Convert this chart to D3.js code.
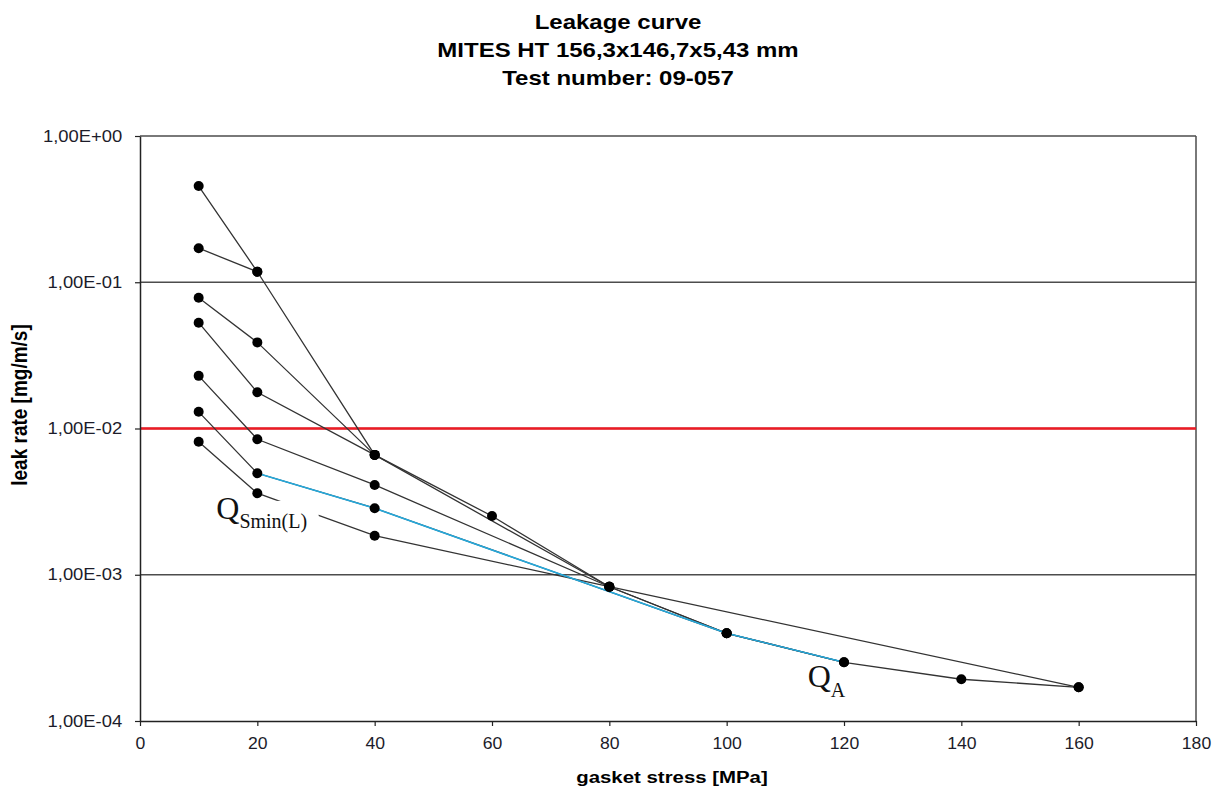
<!DOCTYPE html>
<html>
<head>
<meta charset="utf-8">
<script src="https://cdn.jsdelivr.net/npm/d3@7"></script>
<style>
  body { margin: 0; background: #fff; }
  svg { display: block; font-family: "Liberation Sans", Arial, sans-serif; }
</style>
</head>
<body>
<svg id="chart" width="1213" height="789"></svg>
<script>
// title lines
var titleLines = ['Leakage curve', 'MITES HT 156,3x146,7x5,43 mm', 'Test number: 09-057'];

// axis ticks
var stressTicks = [0, 20, 40, 60, 80, 100, 120, 140, 160, 180];
var leakTicks = [1, 0.1, 0.01, 0.001, 0.0001];
var tightnessLimit = 0.01;

// loading curve
var loadStress = [10, 20, 40, 60, 80, 100, 120, 140, 160];
var loadLeak = [0.455, 0.118, 0.0066, 0.00252, 0.000828, 0.000398, 0.000252, 0.000193, 0.00017];

// unloading curves
var unload20Stress = [20, 10];
var unload20Leak = [0.118, 0.171];
var unload40Stress = [40, 20, 10];
var unload40Leak = [0.0066, 0.0388, 0.0784];
var unload80Stress = [80, 40, 20, 10];
var unload80Leak = [0.000828, 0.0066, 0.0177, 0.0529];
var unload100Stress = [100, 80, 40, 20, 10];
var unload100Leak = [0.000398, 0.000828, 0.00411, 0.00844, 0.0229];
var unload120Stress = [120, 100, 40, 20, 10];
var unload120Leak = [0.000252, 0.000398, 0.00285, 0.00494, 0.013];
var unload160Stress = [160, 80, 40, 20, 10];
var unload160Leak = [0.00017, 0.000828, 0.00185, 0.00361, 0.00812];

// highlighted section between QSmin(L) and QA
var markStress = [20, 40, 100, 120];
var markLeak = [0.00494, 0.00285, 0.000398, 0.000252];

var margin = {top: 136, right: 17, bottom: 68, left: 140},
    width = 1213 - margin.left - margin.right,
    height = 789 - margin.top - margin.bottom;

var svg = d3.select('#chart');
var g = svg.append('g').attr('transform', 'translate(' + margin.left + ',' + margin.top + ')');

var x = d3.scaleLinear().domain([0, 180]).range([0, width]);
var y = d3.scaleLog().domain([0.0001, 1]).range([height, 0]);

function pairs(xs, ys) {
  return xs.map(function(v, i) { return [v, ys[i]]; });
}

var series = [
  pairs(loadStress, loadLeak),
  pairs(unload20Stress, unload20Leak),
  pairs(unload40Stress, unload40Leak),
  pairs(unload80Stress, unload80Leak),
  pairs(unload100Stress, unload100Leak),
  pairs(unload120Stress, unload120Leak),
  pairs(unload160Stress, unload160Leak)
];

function expLabel(d) {
  var e = Math.round(Math.log10(d));
  var s = Math.abs(e) < 10 ? '0' + Math.abs(e) : '' + Math.abs(e);
  return '1,00E' + (e >= 0 ? '+' : '-') + s;
}

// gridlines
g.selectAll('.grid').data(leakTicks.filter(function(d) { return d !== 0.0001; }))
  .enter().append('line')
  .attr('x1', 0).attr('x2', width)
  .attr('y1', function(d) { return y(d); }).attr('y2', function(d) { return y(d); })
  .attr('stroke', '#4d4d4d').attr('stroke-width', 1.5);

g.append('line')
  .attr('x1', width).attr('x2', width).attr('y1', 0).attr('y2', height)
  .attr('stroke', '#4d4d4d').attr('stroke-width', 1.5);

g.append('line')
  .attr('x1', 0).attr('x2', width)
  .attr('y1', y(tightnessLimit)).attr('y2', y(tightnessLimit))
  .attr('stroke', '#ee1b24').attr('stroke-width', 2.5);

// axes
var xAxis = g.append('g').attr('transform', 'translate(0,' + height + ')')
  .call(d3.axisBottom(x).tickValues(stressTicks).tickSize(5).tickPadding(12).tickSizeOuter(0));
var yAxis = g.append('g')
  .call(d3.axisLeft(y).tickValues(leakTicks).tickFormat(expLabel).tickSize(5).tickPadding(10).tickSizeOuter(0));

[xAxis, yAxis].forEach(function(ax) {
  ax.select('.domain').attr('stroke', '#222').attr('stroke-width', 1.5);
  ax.selectAll('.tick line').attr('stroke', '#222').attr('stroke-width', 1.2);
  ax.selectAll('.tick text')
    .attr('fill', '#1c1c2a')
    .style('font-size', '16px');
});
xAxis.selectAll('.tick text').attr('transform', 'scale(1.1,1)');
yAxis.selectAll('.tick text').attr('transform', 'scale(1.15,1)').attr('x', -15.5);

// curves
var line = d3.line()
  .x(function(d) { return x(d[0]); })
  .y(function(d) { return y(d[1]); });

g.selectAll('.curve').data(series).enter().append('path')
  .attr('d', line)
  .attr('fill', 'none')
  .attr('stroke', '#333')
  .attr('stroke-width', 1.3);

g.append('path')
  .datum(pairs(markStress, markLeak))
  .attr('d', line)
  .attr('fill', 'none')
  .attr('stroke', '#25a9dc')
  .attr('stroke-width', 1.6);

// label masks + labels
g.append('rect')
  .attr('x', x(17.5)).attr('y', y(0.0032))
  .attr('width', 76).attr('height', 24)
  .attr('fill', '#fff');

var qs = g.append('text')
  .attr('x', x(13.0)).attr('y', y(0.0024))
  .style('font-family', '"Liberation Serif", "Times New Roman", serif')
  .style('font-size', '32px').attr('fill', '#111');
qs.append('tspan').text('Q');
qs.append('tspan').attr('dy', 9).style('font-size', '20px').text('Smin(L)');

var qa = g.append('text')
  .attr('x', x(113.8)).attr('y', y(0.00017))
  .style('font-family', '"Liberation Serif", "Times New Roman", serif')
  .style('font-size', '32px').attr('fill', '#111');
qa.append('tspan').text('Q');
qa.append('tspan').attr('dy', 10).style('font-size', '20px').text('A');

// points
var points = [];
series.forEach(function(s) { points = points.concat(s); });
g.selectAll('.pt').data(points).enter().append('circle')
  .attr('cx', function(d) { return x(d[0]); })
  .attr('cy', function(d) { return y(d[1]); })
  .attr('r', 5)
  .attr('fill', '#000');

// titles
svg.selectAll('.title').data(titleLines).enter().append('text')
  .attr('transform', function(d, i) { return 'translate(618,' + (29 + i * 28) + ') scale(1.2,1)'; })
  .attr('text-anchor', 'middle')
  .style('font-size', '20px').style('font-weight', 'bold')
  .text(function(d) { return d; });

svg.append('text')
  .attr('transform', 'translate(672,783) scale(1.2,1)')
  .attr('text-anchor', 'middle')
  .style('font-size', '17px').style('font-weight', 'bold')
  .text('gasket stress [MPa]');

svg.append('text')
  .attr('transform', 'translate(27,405) scale(1.2,1) rotate(-90)')
  .attr('text-anchor', 'middle')
  .style('font-size', '19px').style('font-weight', 'bold')
  .text('leak rate [mg/m/s]');
</script>
</body>
</html>
